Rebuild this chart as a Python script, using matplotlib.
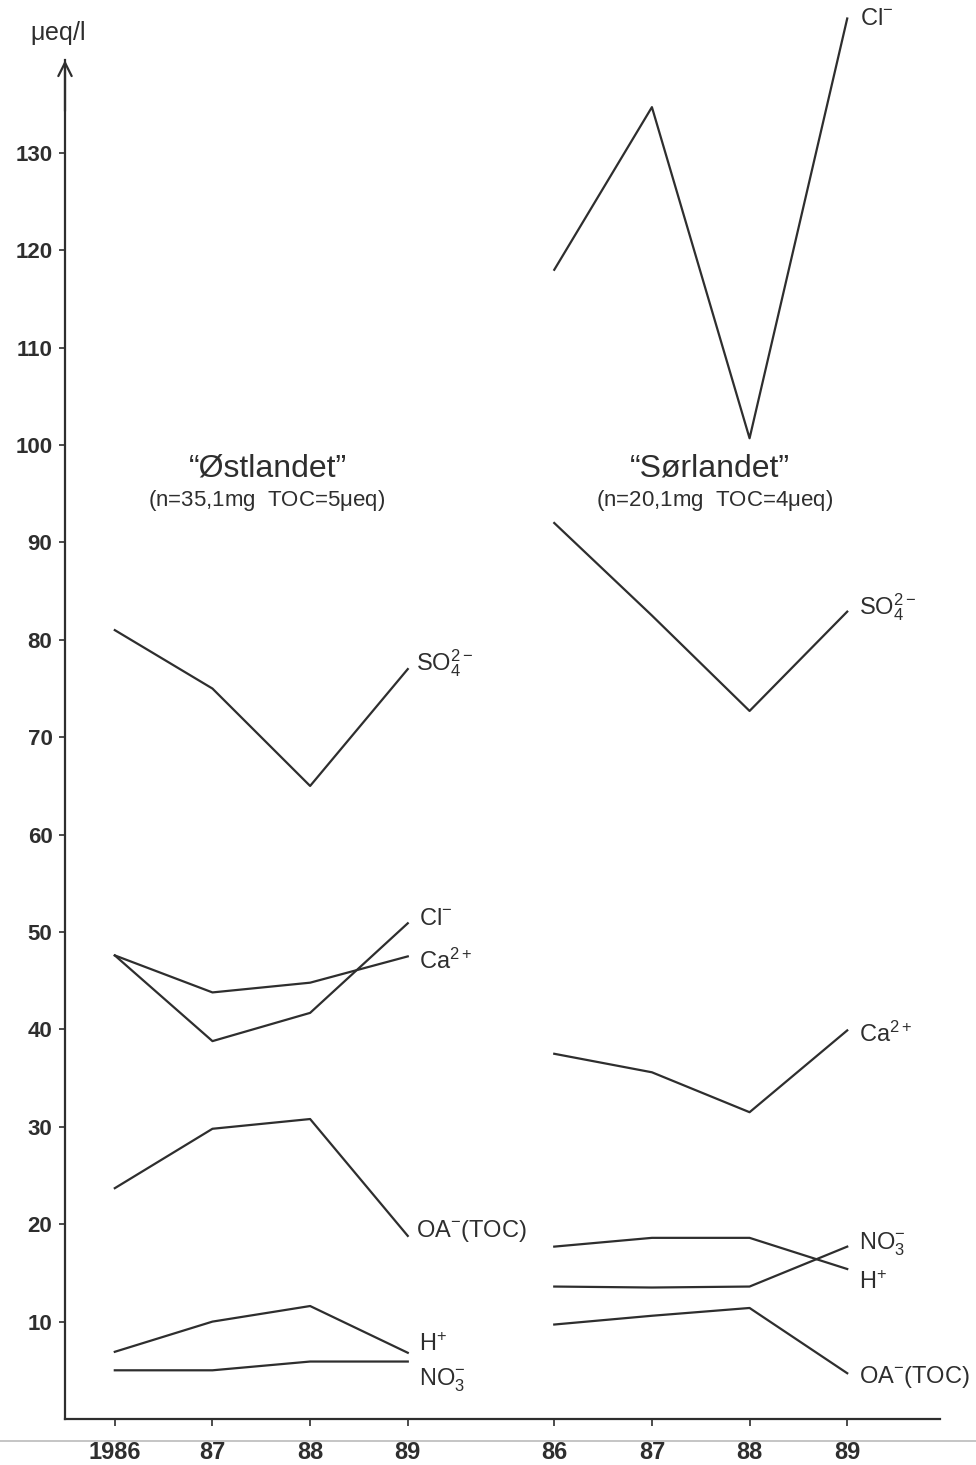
import matplotlib.pyplot as plt
from matplotlib.lines import Line2D

plt.rcParams['font.family'] = ['Liberation Sans', 'DejaVu Sans']
plt.rcParams['mathtext.fontset'] = 'custom'
plt.rcParams['mathtext.rm'] = 'Liberation Sans'
plt.rcParams['mathtext.it'] = 'Liberation Sans'

# x positions: two groups of four years
x_ost = [0, 1, 2, 3]
x_sor = [4.5, 5.5, 6.5, 7.5]
xlabels = ['1986', '87', '88', '89', '86', '87', '88', '89']

# "Østlandet" (µeq/l)
ost_so4 = [81, 75, 65, 77]
ost_cl = [47.6, 38.8, 41.7, 50.9]
ost_ca = [47.6, 43.8, 44.8, 47.5]
ost_oa = [23.7, 29.8, 30.8, 18.8]
ost_h = [6.9, 10.0, 11.6, 6.8]
ost_no3 = [5.0, 5.0, 5.9, 5.9]

# "Sørlandet" (µeq/l)
sor_cl = [118, 134.7, 100.7, 143.8]
sor_so4 = [92, 82.5, 72.7, 82.9]
sor_ca = [37.5, 35.6, 31.5, 39.9]
sor_h = [17.7, 18.6, 18.6, 15.4]
sor_no3 = [13.6, 13.5, 13.6, 17.7]
sor_oa = [9.7, 10.6, 11.4, 4.7]

yticks = [10, 20, 30, 40, 50, 60, 70, 80, 90, 100, 110, 120, 130]

col = '#2e2e2e'
fig = plt.figure(figsize=(9.76, 14.65), dpi=100)
ax = fig.add_axes([65 / 976, 1 - 1419 / 1465, 875 / 976, 1419 / 1465])
ax.set_xlim(-0.51, 8.45)
ax.set_ylim(0, 145.7)

for ys in [ost_so4, ost_cl, ost_ca, ost_oa, ost_h, ost_no3]:
    ax.plot(x_ost, ys, color=col, lw=1.6)
for ys in [sor_cl, sor_so4, sor_ca, sor_h, sor_no3, sor_oa]:
    ax.plot(x_sor, ys, color=col, lw=1.6)

for s in ['top', 'right']:
    ax.spines[s].set_visible(False)
ax.spines['left'].set_bounds(0, 139.5)
ax.spines['left'].set_linewidth(1.6)
ax.spines['bottom'].set_linewidth(1.6)
ax.spines['left'].set_color(col)
ax.spines['bottom'].set_color(col)
ax.annotate('', xy=(-0.51, 139.8), xytext=(-0.51, 134),
            arrowprops=dict(arrowstyle='->', lw=1.6, color=col, mutation_scale=24))

ax.set_yticks(yticks)
ax.set_yticklabels([str(v) for v in yticks], fontsize=16, fontweight='bold', color='#333333')
ax.tick_params(axis='y', direction='out', length=4, width=1.2, pad=5, colors=col)
ax.set_xticks(x_ost + x_sor)
ax.set_xticklabels(xlabels, fontsize=17, fontweight='bold', color='#333333')
ax.tick_params(axis='x', direction='out', length=5, width=1.2, pad=11, colors=col)

fig.text(30 / 976, 1 - 33 / 1465, r'$\mu$eq/l', fontsize=18, ha='left', va='center', color=col)

fs = 17
# labels Østlandet
ax.text(3.08, 77.6, r'SO$_4^{2-}$', fontsize=fs, va='center', color=col)
ax.text(3.12, 51.3, r'Cl$^{-}$', fontsize=fs, va='center', color=col)
ax.text(3.12, 47.0, r'Ca$^{2+}$', fontsize=fs, va='center', color=col)
ax.text(3.08, 19.3, r'OA$^{-}$(TOC)', fontsize=fs, va='center', color=col)
ax.text(3.12, 7.6, r'H$^{+}$', fontsize=fs, va='center', color=col)
ax.text(3.12, 4.0, r'NO$_3^{-}$', fontsize=fs, va='center', color=col)
# labels Sørlandet
ax.text(7.63, 143.8, r'Cl$^{-}$', fontsize=fs, va='center', color=col)
ax.text(7.62, 83.4, r'SO$_4^{2-}$', fontsize=fs, va='center', color=col)
ax.text(7.62, 39.5, r'Ca$^{2+}$', fontsize=fs, va='center', color=col)
ax.text(7.62, 17.9, r'NO$_3^{-}$', fontsize=fs, va='center', color=col)
ax.text(7.62, 14.0, r'H$^{+}$', fontsize=fs, va='center', color=col)
ax.text(7.62, 4.3, r'OA$^{-}$(TOC)', fontsize=fs, va='center', color=col)

# group titles
ax.text(1.57, 97.6, '\u201cØstlandet\u201d', fontsize=23, ha='center', va='center', color=col)
ax.text(1.55, 94.3, r'(n=35,1mg  TOC=5$\mu$eq)', fontsize=16, ha='center', va='center', color=col)
ax.text(6.09, 97.6, '\u201cSørlandet\u201d', fontsize=23, ha='center', va='center', color=col)
ax.text(6.14, 94.3, r'(n=20,1mg  TOC=4$\mu$eq)', fontsize=16, ha='center', va='center', color=col)

# faint scan line at the bottom
fig.add_artist(Line2D([0, 1], [1 - 1441 / 1465] * 2, transform=fig.transFigure,
                      color='#bbbbbb', lw=1.2, zorder=0))

fig.savefig('out.png', dpi=100)
